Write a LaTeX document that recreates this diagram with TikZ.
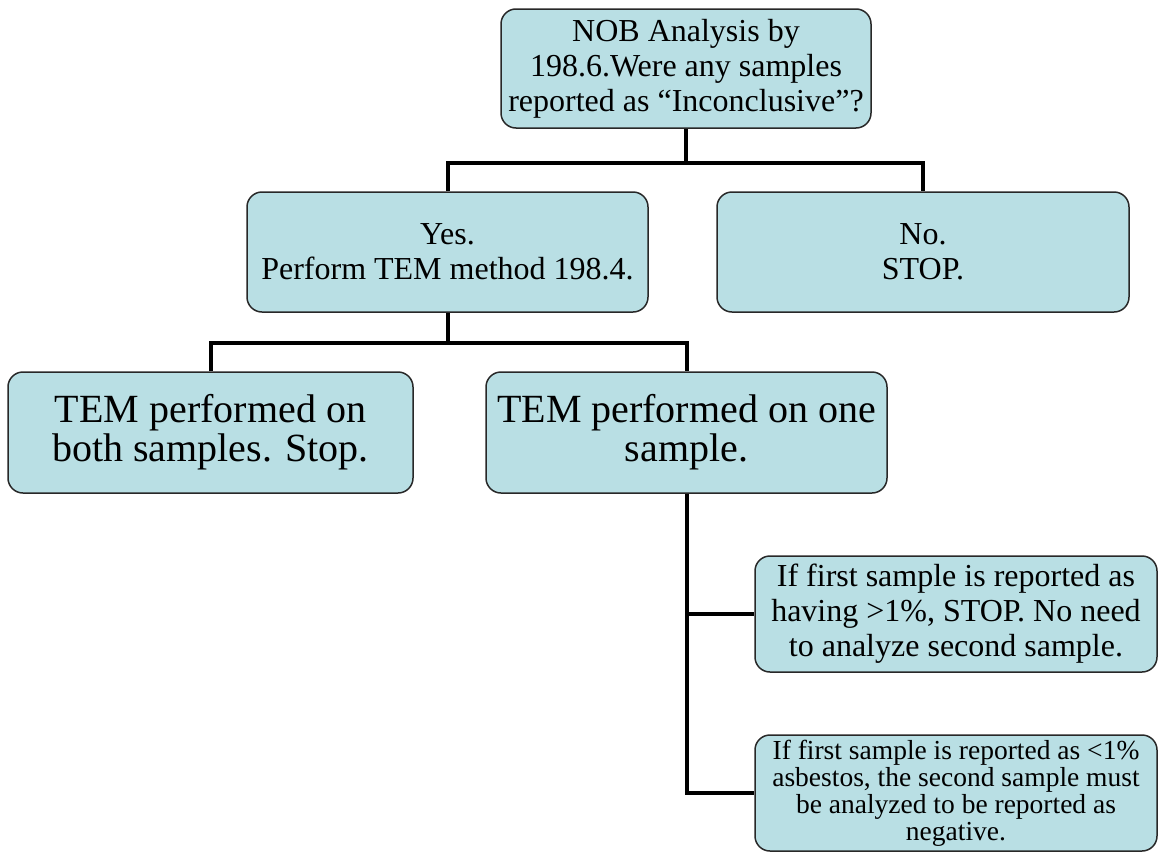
\documentclass[tikz,border=0pt]{standalone}
\usepackage{fontspec}
\setmainfont{Liberation Serif}
\definecolor{boxfill}{RGB}{185,223,228}
\definecolor{boxline}{RGB}{40,40,40}
\tikzset{
  stepbox/.style={draw=boxline, line width=1.5pt, fill=boxfill, rounded corners=15pt,
    align=center, inner sep=2pt, text=black},
  link/.style={draw=black, line width=4pt},
  midfont/.style={font=\fontsize{32}{35}\selectfont},
  bigfont/.style={font=\fontsize{40}{39}\selectfont},
  smallfont/.style={font=\fontsize{27.5}{27}\selectfont}
}
\begin{document}
\begin{tikzpicture}[x=1pt,y=-1pt]
      \useasboundingbox[fill=white] (0,0) rectangle (1159,854);
      \node[stepbox, midfont, minimum width=370pt, minimum height=119pt] (ask) at (686,68.5)
        {NOB Analysis by\\198.6.Were any samples\\reported as “Inconclusive”?};
      \node[stepbox, midfont, minimum width=401pt, minimum height=120pt] (yes) at (447.5,252)
        {Yes.\\Perform TEM method 198.4.};
      \node[stepbox, midfont, minimum width=412pt, minimum height=120pt] (no) at (923,252)
        {No.\\STOP.};
      \node[stepbox, bigfont, minimum width=405pt, minimum height=121pt] (both) at (210.5,432.5)
        {TEM performed on\\both samples. Stop.};
      \node[stepbox, bigfont, minimum width=401pt, minimum height=121pt] (one) at (686.5,432.5)
        {TEM performed on one\\sample.};
      \node[stepbox, midfont, minimum width=402pt, minimum height=116pt] (over) at (956,614)
        {If first sample is reported as\\having >1\%, STOP. No need\\to analyze second sample.};
      \node[stepbox, smallfont, minimum width=402pt, minimum height=116pt] (under) at (956,793)
        {If first sample is reported as <1\%\\asbestos, the second sample must\\be analyzed to be reported as\\negative.};
      \begin{scope}[link]
        \draw (ask.south) -- ++(0,34) coordinate (split1);
        \draw (yes.north) |- (split1) -| (no.north);
        \draw (yes.south) -- ++(0,30) coordinate (split2);
        \draw (both.north) |- (split2) -| (one.north);
        \draw (one.south) |- (over.west);
        \draw (one.south) |- (under.west);
      \end{scope}
    \end{tikzpicture}
\end{document}
